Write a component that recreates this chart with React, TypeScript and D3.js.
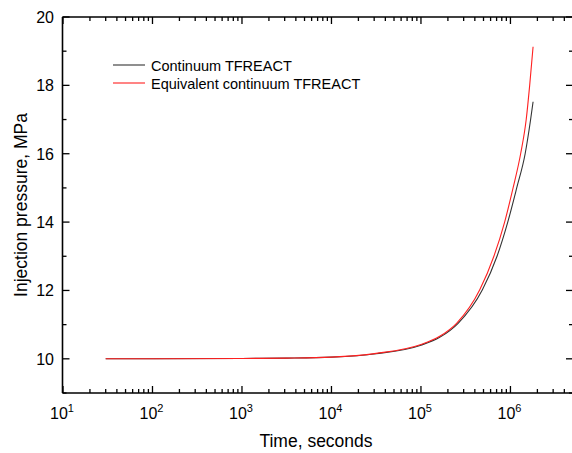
import React from "react";
import * as d3 from "d3";

const W = 572;
const H = 453;

// Continuum TFREACT (black)
const blackTime = [30, 100, 1000, 3162, 10000, 31620, 100000, 162000, 260000, 486000, 708000, 933000, 1175000, 1460000, 1680000, 1790000];
const blackPressure = [10.0, 10.0, 10.01, 10.02, 10.05, 10.15, 10.40, 10.63, 11.04, 12.02, 13.0, 14.0, 15.0, 16.0, 17.0, 17.52];

// Equivalent continuum TFREACT (red)
const redTime = [30, 100, 1000, 3162, 10000, 31620, 100000, 162000, 250000, 454000, 653000, 861000, 1070000, 1300000, 1500000, 1640000, 1790000];
const redPressure = [10.0, 10.0, 10.01, 10.02, 10.05, 10.16, 10.42, 10.66, 11.04, 12.02, 13.0, 14.0, 15.0, 16.0, 17.0, 18.0, 19.13];

const seriesNames = ["Continuum TFREACT", "Equivalent continuum TFREACT"];
const seriesColors = ["#333333", "#ff2020"];

const yMajorTicks = [10, 12, 14, 16, 18, 20];
const yMinorTicks = [9, 11, 13, 15, 17, 19];
const xDecades = [1, 2, 3, 4, 5, 6];

const FONT = "Arial, 'Liberation Sans', sans-serif";

export default function App() {
  const x = d3.scaleLog().domain([10, 5e6]).range([63, 573]);
  const y = d3.scaleLinear().domain([9, 20]).range([393, 17]);
  const left = 62.5, right = 573, top = 17, bottom = 393;

  const line = d3
    .line<[number, number]>()
    .x((d) => x(d[0]))
    .y((d) => y(d[1]))
    .curve(d3.curveMonotoneX);

  const blackData = blackTime.map((t, i) => [t, blackPressure[i]] as [number, number]);
  const redData = redTime.map((t, i) => [t, redPressure[i]] as [number, number]);

  const xMinor: number[] = [];
  for (let e = 1; e <= 6; e++) {
    for (let m = 2; m <= 9; m++) {
      const v = m * Math.pow(10, e);
      if (v <= 5e6) xMinor.push(v);
    }
  }
  const xMajor = xDecades.map((e) => Math.pow(10, e));

  return (
    <svg width={W} height={H} style={{ position: "absolute", left: 0, top: 0, background: "#fff" }} fontFamily={FONT}>
      <rect x={0} y={0} width={W} height={H} fill="#fff" />
      {/* curves */}
      <path d={line(blackData) || ""} fill="none" stroke={seriesColors[0]} strokeWidth={1.1} />
      <path d={line(redData) || ""} fill="none" stroke={seriesColors[1]} strokeWidth={1.1} />

      {/* frame */}
      <g stroke="#000" strokeWidth={1.6} fill="none">
        <line x1={left} y1={top} x2={left} y2={bottom} />
        <line x1={left} y1={bottom} x2={right} y2={bottom} />
        <line x1={left} y1={top} x2={right} y2={top} />
        <line x1={right} y1={top} x2={right} y2={bottom} />
      </g>

      {/* ticks */}
      <g stroke="#000" strokeWidth={1.3}>
        {yMajorTicks.map((v) => (
          <g key={"ym" + v}>
            <line x1={left} x2={left + 7} y1={y(v)} y2={y(v)} />
            <line x1={right} x2={right - 7} y1={y(v)} y2={y(v)} />
          </g>
        ))}
        {yMinorTicks.map((v) => (
          <g key={"yn" + v}>
            <line x1={left} x2={left + 4} y1={y(v)} y2={y(v)} />
            <line x1={right} x2={right - 4} y1={y(v)} y2={y(v)} />
          </g>
        ))}
        {xMajor.map((v) => (
          <g key={"xm" + v}>
            <line x1={x(v)} x2={x(v)} y1={bottom} y2={bottom - 7} />
            <line x1={x(v)} x2={x(v)} y1={top} y2={top + 7} />
          </g>
        ))}
        {xMinor.map((v) => (
          <g key={"xn" + v}>
            <line x1={x(v)} x2={x(v)} y1={bottom} y2={bottom - 4} />
            <line x1={x(v)} x2={x(v)} y1={top} y2={top + 4} />
          </g>
        ))}
      </g>

      {/* y tick labels */}
      {yMajorTicks.map((v) => (
        <text key={"yl" + v} x={54} y={y(v) + 6} textAnchor="end" fontSize={16} fill="#000">
          {v}
        </text>
      ))}

      {/* x tick labels */}
      {xDecades.map((e) => (
        <text key={"xl" + e} x={x(Math.pow(10, e)) - 1} y={419} textAnchor="middle" fontSize={16} fill="#000">
          10
          <tspan fontSize={11} dy={-7}>
            {e}
          </tspan>
        </text>
      ))}

      {/* axis titles */}
      <text x={316} y={447} textAnchor="middle" fontSize={17.5} fill="#000">
        Time, seconds
      </text>
      <text
        transform={`translate(27,${(top + bottom) / 2}) rotate(-90)`}
        textAnchor="middle"
        fontSize={17.5}
        fill="#000"
      >
        Injection pressure, MPa
      </text>

      {/* legend */}
      {seriesNames.map((name, i) => (
        <g key={name}>
          <line x1={113} x2={145} y1={65 + i * 18} y2={65 + i * 18} stroke={seriesColors[i]} strokeWidth={1.1} />
          <text x={151} y={65 + i * 18 + 5.5} fontSize={14.5} fill="#000">
            {name}
          </text>
        </g>
      ))}
    </svg>
  );
}
